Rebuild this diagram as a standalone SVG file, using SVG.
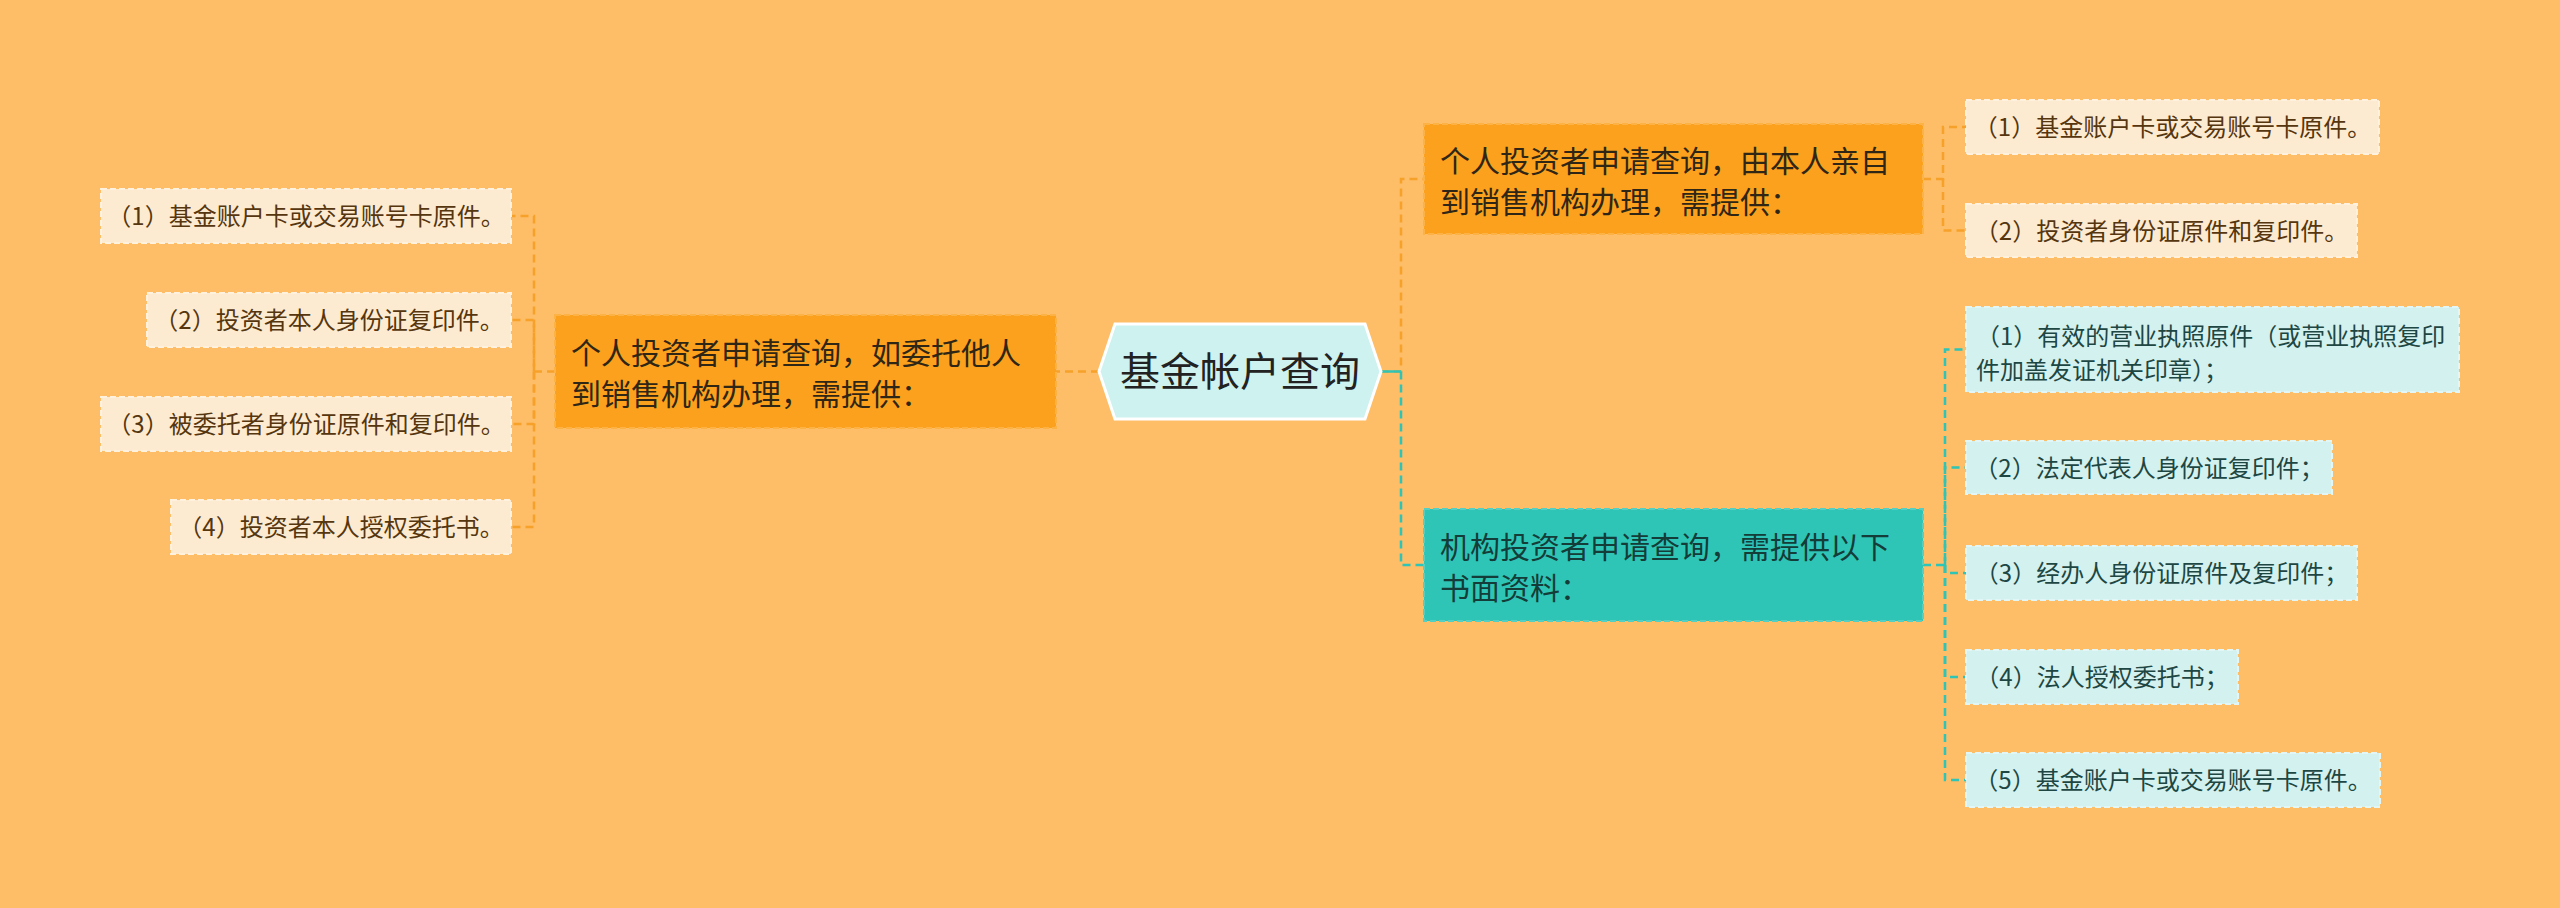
<svg xmlns="http://www.w3.org/2000/svg" width="2560" height="908" viewBox="0 0 2560 908">
<defs>
<style>
text { font-family: "Noto Sans CJK SC", "Noto Sans", sans-serif; }
.conn-o { fill: none; stroke: #F5A12A; stroke-width: 2.5; stroke-dasharray: 8 5; }
.conn-t { fill: none; stroke: #2EC4B6; stroke-width: 2.5; stroke-dasharray: 8 5; }
.l1o { fill: #FBA11E; stroke: #FCB244; stroke-width: 2; stroke-dasharray: 6 3; }
.l1t { fill: #2FC5B6; stroke: #55CFC2; stroke-width: 2; stroke-dasharray: 6 3; }
.c-cream { fill: #FDEBD1; stroke: #FEF1DE; stroke-width: 2; stroke-dasharray: 6 3; }
.c-teal { fill: #D3F2EF; stroke: #E2F7F5; stroke-width: 2; stroke-dasharray: 6 3; }
.t1 { font-size: 30px; fill: #2F2616; }
.t1t { font-size: 30px; fill: #143C38; }
.tc { font-size: 24px; fill: #55360F; text-anchor: middle; }
.tt { font-size: 24px; fill: #1E4643; }
</style>
</defs>
<rect x="0" y="0" width="2560" height="908" fill="#FEBD67"/>

<g id="connectors">
  <path class="conn-o" d="M1099 371.5 H1056"/>
  <path class="conn-o" d="M555 371.5 H534 V216 H511"/>
  <path class="conn-o" d="M534 371.5 V320 H511"/>
  <path class="conn-o" d="M534 371.5 V424 H511"/>
  <path class="conn-o" d="M534 371.5 V527 H511"/>
  <path class="conn-o" d="M1381 371.5 H1401 V179 H1424"/>
  <path class="conn-t" d="M1401 371.5 V565 H1424"/>
  <path d="M1381 371.5 H1401" stroke="#2EC4B6" stroke-width="2.5" fill="none"/>
  <path class="conn-o" d="M1923 179 H1943 V127 H1966"/>
  <path class="conn-o" d="M1943 179 V230.5 H1966"/>
  <path class="conn-t" d="M1923 565 H1945 V349.5 H1966"/>
  <path class="conn-t" d="M1945 565 V467.5 H1966"/>
  <path class="conn-t" d="M1945 565 V573 H1966"/>
  <path class="conn-t" d="M1945 565 V677 H1966"/>
  <path class="conn-t" d="M1945 565 V780 H1966"/>
</g>

<g id="root">
  <polygon points="1099,371.5 1115,324 1365,324 1381,371.5 1365,419 1115,419" fill="#CEF2EF" stroke="#FFFFFF" stroke-width="3"/>
  <text x="1240" y="386" font-size="40" fill="#222222" text-anchor="middle">基金帐户查询</text>
</g>

<g id="left-main">
  <rect class="l1o" x="555" y="315" width="501" height="113"/>
  <text class="t1" x="571" y="364">个人投资者申请查询，如委托他人</text>
  <text class="t1" x="571" y="405">到销售机构办理，需提供：</text>
</g>
<g id="left-c1">
  <rect class="c-cream" x="101" y="189" width="410" height="54"/>
  <text class="tc" x="306" y="225">（1）基金账户卡或交易账号卡原件。</text>
</g>
<g id="left-c2">
  <rect class="c-cream" x="147" y="293" width="364" height="54"/>
  <text class="tc" x="329" y="329">（2）投资者本人身份证复印件。</text>
</g>
<g id="left-c3">
  <rect class="c-cream" x="101" y="397" width="410" height="54"/>
  <text class="tc" x="306" y="433">（3）被委托者身份证原件和复印件。</text>
</g>
<g id="left-c4">
  <rect class="c-cream" x="171" y="500" width="340" height="54"/>
  <text class="tc" x="341" y="536">（4）投资者本人授权委托书。</text>
</g>

<g id="right-top">
  <rect class="l1o" x="1424" y="124" width="499" height="110"/>
  <text class="t1" x="1440" y="171.5">个人投资者申请查询，由本人亲自</text>
  <text class="t1" x="1440" y="212.5">到销售机构办理，需提供：</text>
</g>
<g id="rt-c1">
  <rect class="c-cream" x="1966" y="100" width="413" height="54"/>
  <text class="tc" x="2172.5" y="136">（1）基金账户卡或交易账号卡原件。</text>
</g>
<g id="rt-c2">
  <rect class="c-cream" x="1966" y="204" width="391" height="53"/>
  <text class="tc" x="2161.5" y="239.5">（2）投资者身份证原件和复印件。</text>
</g>

<g id="right-bottom">
  <rect class="l1t" x="1424" y="509" width="499" height="112"/>
  <text class="t1t" x="1440" y="557.5">机构投资者申请查询，需提供以下</text>
  <text class="t1t" x="1440" y="598.5">书面资料：</text>
</g>
<g id="rb-c1">
  <rect class="c-teal" x="1966" y="307" width="493" height="85"/>
  <text class="tt" x="1976" y="345">（1）有效的营业执照原件（或营业执照复印</text>
  <text class="tt" x="1976" y="379">件加盖发证机关印章）；</text>
</g>
<g id="rb-c2">
  <rect class="c-teal" x="1966" y="441" width="366" height="53"/>
  <text class="tt" x="2149" y="476.5" text-anchor="middle">（2）法定代表人身份证复印件；</text>
</g>
<g id="rb-c3">
  <rect class="c-teal" x="1966" y="546" width="391" height="54"/>
  <text class="tt" x="2161.5" y="582" text-anchor="middle">（3）经办人身份证原件及复印件；</text>
</g>
<g id="rb-c4">
  <rect class="c-teal" x="1966" y="650" width="272" height="54"/>
  <text class="tt" x="2102" y="686" text-anchor="middle">（4）法人授权委托书；</text>
</g>
<g id="rb-c5">
  <rect class="c-teal" x="1966" y="753" width="414" height="54"/>
  <text class="tt" x="2173" y="789" text-anchor="middle">（5）基金账户卡或交易账号卡原件。</text>
</g>
</svg>
